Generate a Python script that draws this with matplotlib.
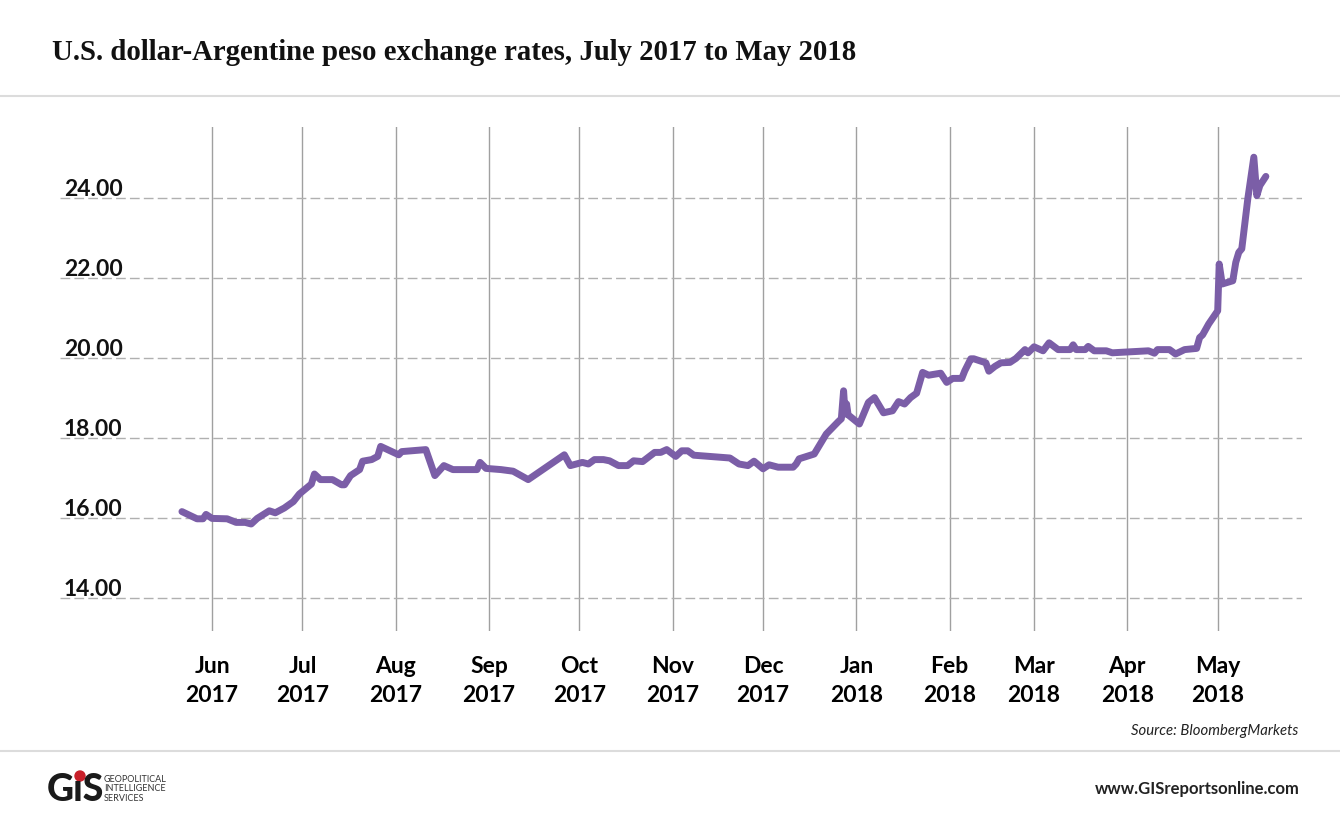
import numpy as np
import pandas as pd
import matplotlib
matplotlib.use("Agg")
import matplotlib.pyplot as plt
import matplotlib.dates as mdates
from matplotlib.lines import Line2D
from matplotlib.patches import Circle

# exchange rate, pesos per dollar
dates = [
    "2017-05-22", "2017-05-27", "2017-05-29", "2017-05-30", "2017-06-01",
    "2017-06-06", "2017-06-09", "2017-06-12", "2017-06-14", "2017-06-16",
    "2017-06-20", "2017-06-22", "2017-06-25", "2017-06-28", "2017-06-30",
    "2017-07-04", "2017-07-05", "2017-07-07", "2017-07-11", "2017-07-14",
    "2017-07-15", "2017-07-17", "2017-07-20", "2017-07-21", "2017-07-24",
    "2017-07-26", "2017-07-27", "2017-07-31", "2017-08-02", "2017-08-03",
    "2017-08-11", "2017-08-14", "2017-08-17", "2017-08-20", "2017-08-28",
    "2017-08-29", "2017-08-31", "2017-09-05", "2017-09-09", "2017-09-14",
    "2017-09-20", "2017-09-26", "2017-09-28", "2017-10-02", "2017-10-04",
    "2017-10-06", "2017-10-09", "2017-10-11", "2017-10-14", "2017-10-17",
    "2017-10-19", "2017-10-22", "2017-10-26", "2017-10-28", "2017-10-30",
    "2017-11-02", "2017-11-04", "2017-11-06", "2017-11-08", "2017-11-20",
    "2017-11-23", "2017-11-26", "2017-11-28", "2017-12-01", "2017-12-03",
    "2017-12-06", "2017-12-11", "2017-12-12", "2017-12-13", "2017-12-18",
    "2017-12-22", "2017-12-26", "2017-12-27", "2017-12-27 18:00",
    "2017-12-28 06:00", "2017-12-28 18:00", "2017-12-29 06:00",
    "2018-01-02", "2018-01-05", "2018-01-07", "2018-01-10", "2018-01-13",
    "2018-01-15", "2018-01-17", "2018-01-19", "2018-01-21", "2018-01-23",
    "2018-01-25", "2018-01-29", "2018-01-31", "2018-02-02", "2018-02-05",
    "2018-02-06", "2018-02-08", "2018-02-09", "2018-02-13", "2018-02-14",
    "2018-02-16", "2018-02-18", "2018-02-21", "2018-02-23", "2018-02-26",
    "2018-02-27", "2018-03-01", "2018-03-04", "2018-03-06", "2018-03-09",
    "2018-03-13", "2018-03-14", "2018-03-15", "2018-03-18", "2018-03-19",
    "2018-03-21", "2018-03-25", "2018-03-27", "2018-04-08", "2018-04-10",
    "2018-04-11", "2018-04-15", "2018-04-17", "2018-04-20", "2018-04-24",
    "2018-04-25", "2018-04-26", "2018-04-28", "2018-05-01", "2018-05-01 12:00",
    "2018-05-02 12:00", "2018-05-06", "2018-05-07", "2018-05-08", "2018-05-09",
    "2018-05-11", "2018-05-13", "2018-05-14", "2018-05-15", "2018-05-17",
]
rates = [
    16.16, 15.98, 15.98, 16.09, 15.99,
    15.98, 15.89, 15.89, 15.85, 15.99,
    16.18, 16.13, 16.25, 16.41, 16.60,
    16.85, 17.10, 16.96, 16.96, 16.83,
    16.83, 17.06, 17.21, 17.42, 17.46,
    17.54, 17.79, 17.65, 17.58, 17.66,
    17.71, 17.06, 17.31, 17.21, 17.21,
    17.39, 17.24, 17.21, 17.17, 16.96,
    17.27, 17.58, 17.31, 17.39, 17.35,
    17.46, 17.46, 17.43, 17.31, 17.31,
    17.43, 17.41, 17.64, 17.64, 17.71,
    17.54, 17.68, 17.68, 17.57, 17.50,
    17.35, 17.31, 17.42, 17.23, 17.33,
    17.27, 17.27, 17.35, 17.48, 17.60,
    18.10, 18.41, 18.48, 19.18,
    18.60, 18.85, 18.58,
    18.35, 18.89, 19.01, 18.63, 18.68,
    18.91, 18.85, 19.01, 19.12, 19.64,
    19.57, 19.62, 19.39, 19.49, 19.49,
    19.68, 19.98, 19.98, 19.88, 19.67,
    19.79, 19.88, 19.89, 19.99, 20.21,
    20.13, 20.28, 20.18, 20.38, 20.21,
    20.21, 20.33, 20.21, 20.21, 20.29,
    20.18, 20.18, 20.13, 20.18, 20.12,
    20.21, 20.21, 20.10, 20.21, 20.24,
    20.51, 20.58, 20.85, 21.18, 22.35,
    21.85, 21.93, 22.39, 22.64, 22.73,
    23.98, 25.02, 24.06, 24.31, 24.54,
]

month_ticks = ["2017-06-01", "2017-07-01", "2017-08-01", "2017-09-01",
               "2017-10-01", "2017-11-01", "2017-12-01", "2018-01-01",
               "2018-02-01", "2018-03-01", "2018-04-01", "2018-05-01"]
month_labels = ["Jun\n2017", "Jul\n2017", "Aug\n2017", "Sep\n2017",
                "Oct\n2017", "Nov\n2017", "Dec\n2017", "Jan\n2018",
                "Feb\n2018", "Mar\n2018", "Apr\n2018", "May\n2018"]
y_ticks = [14, 16, 18, 20, 22, 24]

x = pd.to_datetime(dates, format="mixed")
ticks = pd.to_datetime(month_ticks)

fig = plt.figure(figsize=(13.4, 8.28), dpi=100)
ax = fig.add_axes([60 / 1340, 1 - 632 / 828, 1242 / 1340, 504 / 828])

ax.plot(x, rates, color="#7b5ea7", lw=5, solid_joinstyle="round",
        solid_capstyle="round", zorder=3)

ax.set_xlim(pd.Timestamp("2017-04-11 12:00"), pd.Timestamp("2018-05-29"))
ax.set_ylim(13.175, 25.775)

ax.set_xticks(ticks)
ax.set_xticklabels(month_labels, fontsize=16.5, fontweight="bold",
                   family="Lato", linespacing=1.5)
ax.set_yticks(y_ticks)
ax.set_yticklabels([])
ax.tick_params(length=0, axis="x", pad=17)
ax.tick_params(length=0, axis="y")

ax.grid(axis="x", color="#a0a0a0", lw=1, ls="-")
ax.grid(axis="y", color="#b0b0b0", lw=1, ls=(0, (7, 3)))
for s in ax.spines.values():
    s.set_visible(False)

# y labels sit above their gridlines, inside the plot
for v in y_ticks:
    ax.text(0.003, v + 0.07, f"{v:.2f}", transform=ax.get_yaxis_transform(),
            ha="left", va="baseline", fontsize=16.5, fontweight="bold",
            family="Lato", color="#111111")

fig.text(52 / 1340, 1 - 60 / 828,
         "U.S. dollar-Argentine peso exchange rates, July 2017 to May 2018",
         family="Liberation Serif", fontweight="bold", fontsize=20.7,
         ha="left", va="baseline", color="#111111")

for yy in [97, 752]:
    fig.add_artist(Line2D([0, 1], [1 - yy / 828] * 2, transform=fig.transFigure,
                          color="#dcdcdc", lw=1.5))

fig.text(1298 / 1340, 1 - 731 / 828, "Source: BloombergMarkets",
         family="Lato", style="italic", fontsize=10.7, ha="right", va="center",
         color="#222222")
fig.text(1300 / 1340, 1 - 789 / 828, "www.GISreportsonline.com",
         family="Lato", fontweight="bold", fontsize=12.0, ha="right",
         va="center", color="#222222")

# GIS logo
fig.text(47 / 1340, 1 - 790 / 828, "G\u0131S", family="Lato", fontweight="black",
         fontsize=27, ha="left", va="center", color="#1a1a1a")
fig.add_artist(Circle((80 / 100, (828 - 777) / 100), 0.05,
                      transform=fig.dpi_scale_trans, color="#c8202a"))
fig.text(104 / 1340, 1 - 789 / 828, "GEOPOLITICAL\nINTELLIGENCE\nSERVICES",
         family="Lato", fontsize=6.5, ha="left", va="center",
         color="#333333", linespacing=1.1)

fig.savefig("out.png", dpi=100, facecolor="white")
